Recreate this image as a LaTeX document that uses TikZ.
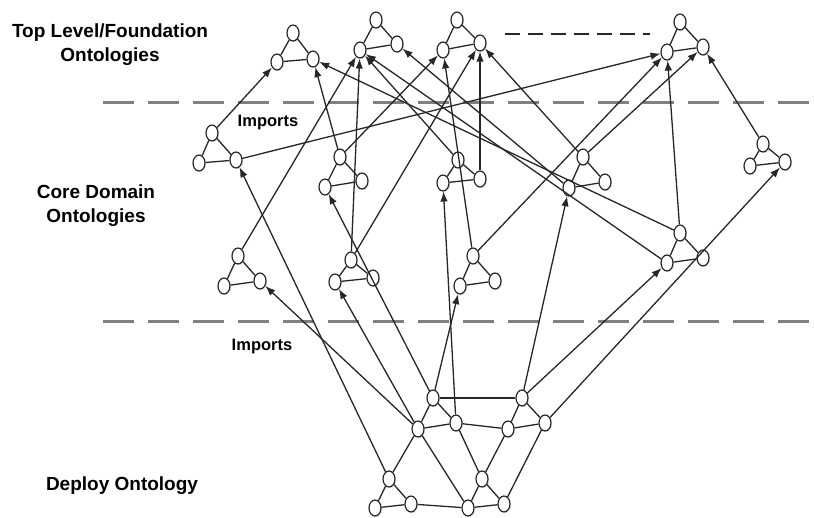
\documentclass[tikz,border=0pt]{standalone}
\usepackage{fontspec}
\setmainfont{Liberation Sans}
\usetikzlibrary{shapes.geometric,arrows.meta,shadows}

\begin{document}
\begin{tikzpicture}[x=1pt,y=-1pt,line width=1.3pt,draw=black!85,
    onto/.style={ellipse,draw=black!85,fill=white,inner sep=0pt,
      minimum width=12pt,minimum height=16pt,line width=1.2pt,
      drop shadow={shadow xshift=1.2pt,shadow yshift=-1.2pt,opacity=0.2}},
    lbl/.style={font=\bfseries\fontsize{19}{24}\selectfont,align=center,inner sep=0pt},
    imp/.style={font=\bfseries\fontsize{16.5}{20}\selectfont,inner sep=0pt},
    divider/.style={draw=black!50,line width=3pt,dash pattern=on 31pt off 14pt}]
  \useasboundingbox (0,0) rectangle (814,518);

  % layers
  \draw[divider] (103,103) -- (814,103);
  \draw[divider] (103,322) -- (814,322);
  \draw[line width=1.2pt,dash pattern=on 15pt off 8pt] (505,34) -- (650,34);

  \node[lbl] (toplbl) at (110,45) {Top Level/Foundation\\Ontologies};
  \node[lbl] (corelbl) at (96,206) {Core Domain\\Ontologies};
  \node[lbl] (deplbl) at (122,486) {Deploy Ontology};
  \node[imp] (imp1) at (268,123) {Imports};
  \node[imp] (imp2) at (262,347) {Imports};

  % ontologies
  \draw
    (293,33) node[onto] (t1a){} (277,62) node[onto] (t1b){} (313,59) node[onto] (t1c){}
    (376,20) node[onto] (t2a){} (360,50) node[onto] (t2b){} (397,44) node[onto] (t2c){}
    (457,20) node[onto] (t3a){} (443,50) node[onto] (t3b){} (480,43) node[onto] (t3c){}
    (680,22) node[onto] (t4a){} (667,52) node[onto] (t4b){} (703,47) node[onto] (t4c){}
    (212,133) node[onto] (c1a){} (199,163) node[onto] (c1b){} (236,160) node[onto] (c1c){}
    (340,157) node[onto] (c2a){} (325,187) node[onto] (c2b){} (362,181) node[onto] (c2c){}
    (458,160) node[onto] (c3a){} (443,183) node[onto] (c3b){} (480,179) node[onto] (c3c){}
    (583,157) node[onto] (c4a){} (569,188) node[onto] (c4b){} (605,182) node[onto] (c4c){}
    (763,144) node[onto] (c5a){} (750,166) node[onto] (c5b){} (785,162) node[onto] (c5c){}
    (238,256) node[onto] (c6a){} (224,286) node[onto] (c6b){} (260,281) node[onto] (c6c){}
    (351,260) node[onto] (c7a){} (335,282) node[onto] (c7b){} (373,278) node[onto] (c7c){}
    (473,256) node[onto] (c8a){} (460,286) node[onto] (c8b){} (495,281) node[onto] (c8c){}
    (680,233) node[onto] (c9a){} (667,263) node[onto] (c9b){} (703,258) node[onto] (c9c){}
    (433,398) node[onto] (d1a){} (418,429) node[onto] (d1b){} (456,423) node[onto] (d1c){}
    (522,398) node[onto] (d2a){} (508,429) node[onto] (d2b){} (545,423) node[onto] (d2c){}
    (389,479) node[onto] (d3a){} (375,508) node[onto] (d3b){} (411,504) node[onto] (d3c){}
    (482,479) node[onto] (d4a){} (468,508) node[onto] (d4b){} (504,504) node[onto] (d4c){};

  \begin{scope}[-]
    \foreach \t in {t1,t2,t3,t4,c1,c2,c3,c4,c5,c6,c7,c8,c9,d1,d2,d3,d4} {
      \draw (\t a) to (\t b);
      \draw (\t a) to (\t c);
      \draw (\t b) to (\t c);
    }
    \draw (d1a) to (d2a);
    \draw (d1c) to (d2b);
    \draw (d1b) to (d3a);
    \draw (d1b) to (d4b);
    \draw (d1c) to (d4a);
    \draw (d2b) to (d4a);
    \draw (d2c) to (d4c);
    \draw (d3c) to (d4b);
  \end{scope}

  % imports
  \begin{scope}[-{Latex[length=10pt,width=7.5pt]}]
    \draw (c1a) to (t1b);
    \draw (c1c) to (t4b);
    \draw (c2a) to (t1c);
    \draw (c9a) to (t1c);
    \draw (c6a) to (t2b);
    \draw (c7a) to (t2b);
    \draw (c3a) to (t2b);
    \draw (c9b) to (t2b);
    \draw (c4b) to (t2c);
    \draw (c2a) to (t3b);
    \draw (c8a) to (t3b);
    \draw (c7a) to (t3c);
    \draw (c3c) to (t3c);
    \draw (c4a) to (t3c);
    \draw (c8a) to (t4b);
    \draw (c9a) to (t4b);
    \draw (c4a) to (t4c);
    \draw (c5a) to (t4c);
    \draw (d3a) to (c1c);
    \draw (d1b) to (c6c);
    \draw (d1b) to (c7b);
    \draw (d1a) to (c2b);
    \draw (d1a) to (c8b);
    \draw (d1c) to (c3b);
    \draw (d2a) to (c4b);
    \draw (d2a) to (c9b);
    \draw (d2c) to (c5c);
  \end{scope}
\end{tikzpicture}
\end{document}
